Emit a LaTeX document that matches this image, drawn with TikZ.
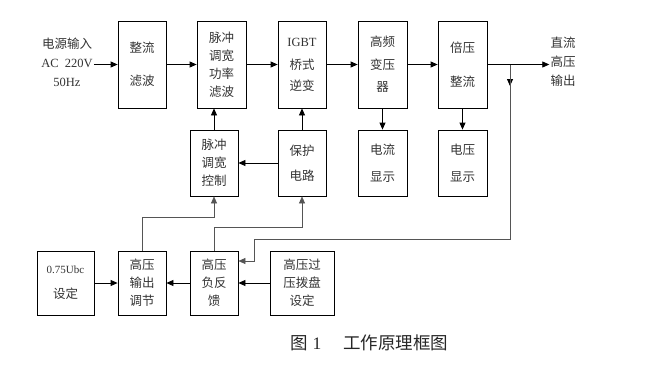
\documentclass[tikz,border=0pt]{standalone}
\usepackage{fontspec}
\setmainfont{Noto Sans CJK SC}
\newfontfamily\lat{Liberation Serif}
\usepackage{tikz}
\usetikzlibrary{positioning, arrows.meta, calc}
\usepackage{xcolor}
\definecolor{txtgray}{HTML}{333333}
\definecolor{wiregray}{HTML}{555555}
\tikzset{
  blk/.style={draw, line width=0.8pt, align=center, inner sep=0pt, text=txtgray,
    font=\fontsize{12.5}{18}\selectfont},
  lbl/.style={align=center, inner sep=1pt, text=txtgray, font=\fontsize{12.5}{19}\selectfont},
  flow/.style={-{Triangle[length=7pt,width=6pt]}, line width=0.8pt},
  wire/.style={-{Triangle[length=7pt,width=6pt]}, line width=0.6pt, draw=wiregray}
}

\begin{document}
\begin{tikzpicture}[x=1pt, y=-1pt]
\useasboundingbox (0,0) rectangle (655,372);

% Main power path
\node[lbl] (src) at (67,62) {电源输入\\{\lat AC\ \ 220V}\\{\lat 50Hz}};
\node[blk, minimum width=48pt, minimum height=87pt] (rect) at (142,64.5) {整流\\[15pt]滤波};
\node[blk, minimum width=49pt, minimum height=87pt] (pwm) at (221.5,64.5) {脉冲\\调宽\\功率\\滤波};
\node[blk, minimum width=48pt, minimum height=87pt] (igbt) at (302,64.5) {{\lat IGBT}\\[5pt]桥式\\[3pt]逆变};
\node[blk, minimum width=49pt, minimum height=87pt] (hft) at (382.5,64.5) {高频\\[5pt]变压\\[4pt]器};
\node[blk, minimum width=49pt, minimum height=87pt] (vmul) at (462.5,64.5) {倍压\\[16pt]整流};
\node[lbl] (dcout) at (563,62) {直流\\高压\\输出};

% Control and display
\node[blk, minimum width=48pt, minimum height=66pt] (pwmc) at (214,163) {脉冲\\调宽\\控制};
\node[blk, minimum width=48pt, minimum height=66pt] (prot) at (302,163) {保护\\[7pt]电路};
\node[blk, minimum width=49pt, minimum height=66pt] (idisp) at (382.5,163) {电流\\[9pt]显示};
\node[blk, minimum width=49pt, minimum height=66pt] (vdisp) at (462.5,163) {电压\\[9pt]显示};

% Setting and feedback
\node[blk, minimum width=57pt, minimum height=64pt] (set75) at (65.5,283) {{\lat\fontsize{11}{13}\selectfont 0.75Ubc}\\[7pt]设定};
\node[blk, minimum width=48pt, minimum height=64pt] (hvadj) at (142,283) {高压\\输出\\调节};
\node[blk, minimum width=48pt, minimum height=64pt] (hvfb) at (214,283) {高压\\负反\\馈};
\node[blk, minimum width=64pt, minimum height=64pt] (ovset) at (302,283) {高压过\\压拨盘\\设定};

\draw[flow] (src.east |- rect.west) -- (rect);
\draw[flow] (rect) -- (pwm);
\draw[flow] (pwm) -- (igbt);
\draw[flow] (igbt) -- (hft);
\draw[flow] (hft) -- (vmul);
\draw[flow] (vmul.east) -- (vmul.east -| dcout.west);

\draw[flow] (pwmc.north) -- (pwmc.north |- pwm.south);
\draw[flow] (prot) -- (igbt);
\draw[flow] (prot) -- (pwmc);
\draw[flow] (hft.south) -- (hft.south |- idisp.north);
\draw[flow] (vmul.south) -- (vmul.south |- vdisp.north);

\draw[flow] (set75) -- (hvadj);
\draw[flow] (hvfb) -- (hvadj);
\draw[flow] (ovset) -- (hvfb);

\draw[wire] (hvadj.north) -- ++(0,-33) -| (pwmc.south);
\draw[wire] (hvfb.north) -- ++(0,-23) -| (prot.south);

% Output voltage feedback
\coordinate (tap) at (510,65);
\draw[flow] (tap) -- ++(0,21);
\draw[wire] (tap) -- ++(0,174) -- ++(-256,0) |- ([yshift=22pt]hvfb.east);

\node[anchor=west, inner sep=0pt, text=black!85, font=\fontsize{17.5}{20}\selectfont] (cap) at (290,343) {图\hspace{5pt}{\lat 1}\hspace{22pt}工作原理框图};
\end{tikzpicture}
\end{document}
